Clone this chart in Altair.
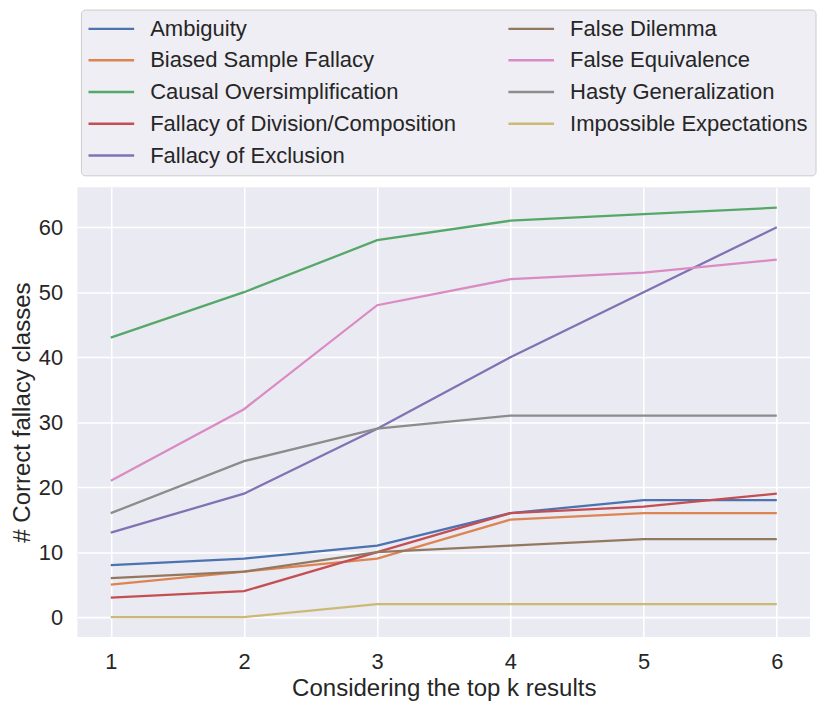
import altair as alt
import pandas as pd

# ---- data ----
k_values = [1, 2, 3, 4, 5, 6]

class_names = [
    "Ambiguity",
    "Biased Sample Fallacy",
    "Causal Oversimplification",
    "Fallacy of Division/Composition",
    "Fallacy of Exclusion",
    "False Dilemma",
    "False Equivalence",
    "Hasty Generalization",
    "Impossible Expectations",
]

ambiguity = [8, 9, 11, 16, 18, 18]
biased_sample = [5, 7, 9, 15, 16, 16]
causal_oversimplification = [43, 50, 58, 61, 62, 63]
division_composition = [3, 4, 10, 16, 17, 19]
exclusion = [13, 19, 29, 40, 50, 60]
false_dilemma = [6, 7, 10, 11, 12, 12]
false_equivalence = [21, 32, 48, 52, 53, 55]
hasty_generalization = [16, 24, 29, 31, 31, 31]
impossible_expectations = [0, 0, 2, 2, 2, 2]

series_values = [
    ambiguity, biased_sample, causal_oversimplification, division_composition,
    exclusion, false_dilemma, false_equivalence, hasty_generalization,
    impossible_expectations,
]

class_colors = [
    "#4C72B0", "#DD8452", "#55A868", "#C44E52", "#8172B3",
    "#937860", "#DA8BC3", "#8C8C8C", "#CCB974",
]

y_ticks = [0, 10, 20, 30, 40, 50, 60]

# ---- table ----
rows = []
for name, vals in zip(class_names, series_values):
    for k, v in zip(k_values, vals):
        rows.append({"k": k, "count": v, "fallacy": name})
df = pd.DataFrame(rows)

FONT = "Liberation Sans"
TEXT = "#262626"

chart = (
    alt.Chart(df)
    .mark_line(strokeWidth=2.3)
    .encode(
        x=alt.X(
            "k:Q",
            scale=alt.Scale(domain=[0.75, 6.25], nice=False, zero=False),
            axis=alt.Axis(values=k_values, format="d", title="Considering the top k results",
                          labelPadding=15, titlePadding=4),
        ),
        y=alt.Y(
            "count:Q",
            scale=alt.Scale(domain=[-3.05, 66.15], nice=False, zero=False),
            axis=alt.Axis(values=y_ticks, format="d", title="# Correct fallacy classes",
                          labelPadding=15, titlePadding=4),
        ),
        color=alt.Color(
            "fallacy:N",
            scale=alt.Scale(domain=class_names, range=class_colors),
            legend=alt.Legend(
                title=None,
                orient="none",
                legendX=3.5,
                legendY=-179,
                columns=2,
                gridAlign="each",
                symbolType="M-2.42,0H2.42",
                symbolSize=361,
                symbolStrokeWidth=2.5,
                symbolOffset=11.5,
                labelOffset=28,
                labelFont=FONT,
                labelFontSize=22.2,
                labelColor=TEXT,
                labelLimit=0,
                rowPadding=9,
                columnPadding=47,
                padding=8,
                fillColor="#EEEEF4",
                strokeColor="#CCCCCC",
                cornerRadius=4,
            ),
        ),
    )
    .properties(
        width=738,
        height=453,
        autosize=alt.AutoSizeParams(type="none"),
        padding={"left": 70, "top": 178, "right": 12, "bottom": 68},
        background="white",
    )
    .configure_view(fill="#EAEAF2", stroke=None)
    .configure_axis(
        grid=True,
        gridColor="white",
        gridWidth=1.6,
        domain=False,
        ticks=False,
        tickSize=0,
        labelFont=FONT,
        labelFontSize=22,
        labelColor=TEXT,
        titleFont=FONT,
        titleFontSize=24.2,
        titleFontWeight="normal",
        titleColor=TEXT,
    )
)

chart.save("out.html", embed_options={"renderer": "svg", "actions": False})
